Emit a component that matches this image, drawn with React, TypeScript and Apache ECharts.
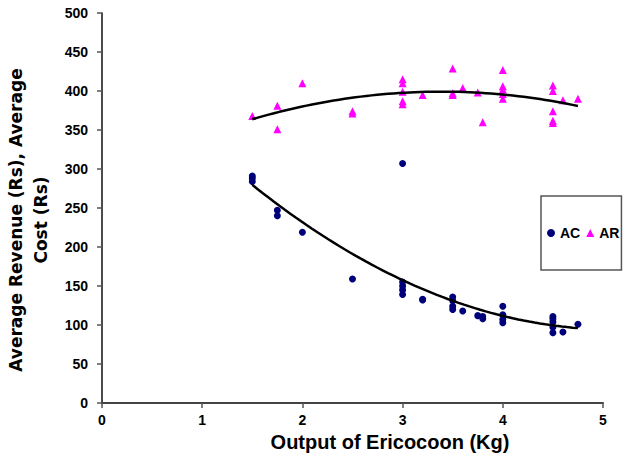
import React, { useEffect, useRef } from "react";
import * as echarts from "echarts";

const acPoints: [number, number][] = [
  [1.5, 291], [1.5, 288], [1.5, 284], [1.75, 247], [1.75, 240], [2, 219], [2.5, 159],
  [3, 307], [3, 155], [3, 150], [3, 145], [3, 139], [3.2, 133], [3.2, 132],
  [3.5, 136], [3.5, 131], [3.5, 124], [3.5, 120], [3.6, 118], [3.75, 112], [3.8, 111], [3.8, 108],
  [4, 124], [4, 113], [4, 107], [4, 103], [4.5, 111], [4.5, 108], [4.5, 104], [4.5, 97], [4.5, 90],
  [4.6, 91], [4.75, 101],
];

const arPoints: [number, number][] = [
  [1.5, 368], [1.75, 381], [1.75, 351], [2, 410], [2.5, 374], [2.5, 371],
  [3, 415], [3, 410], [3, 399], [3, 387], [3, 383], [3.2, 395],
  [3.5, 429], [3.5, 397], [3.5, 395], [3.6, 404], [3.75, 398], [3.8, 360],
  [4, 427], [4, 406], [4, 402], [4, 396], [4, 390],
  [4.5, 407], [4.5, 400], [4.5, 374], [4.5, 362], [4.5, 359], [4.6, 388], [4.75, 390],
];

const xTicks = [0, 1, 2, 3, 4, 5];
const yTicks = [0, 50, 100, 150, 200, 250, 300, 350, 400, 450, 500];

// quadratic least-squares trend line through the data
function quadFit(pts: [number, number][]) {
  let s0 = 0, s1 = 0, s2 = 0, s3 = 0, s4 = 0, t0 = 0, t1 = 0, t2 = 0;
  for (const [x, y] of pts) {
    s0 += 1; s1 += x; s2 += x * x; s3 += x ** 3; s4 += x ** 4;
    t0 += y; t1 += x * y; t2 += x * x * y;
  }
  const M = [
    [s0, s1, s2, t0],
    [s1, s2, s3, t1],
    [s2, s3, s4, t2],
  ];
  for (let i = 0; i < 3; i++) {
    for (let k = i + 1; k < 3; k++) {
      const f = M[k][i] / M[i][i];
      for (let j = i; j < 4; j++) M[k][j] -= f * M[i][j];
    }
  }
  const c = [0, 0, 0];
  for (let i = 2; i >= 0; i--) {
    let s = M[i][3];
    for (let j = i + 1; j < 3; j++) s -= M[i][j] * c[j];
    c[i] = s / M[i][i];
  }
  const xs = pts.map((p) => p[0]);
  const lo = Math.min(...xs), hi = Math.max(...xs);
  const out: [number, number][] = [];
  const n = 60;
  for (let i = 0; i <= n; i++) {
    const x = lo + ((hi - lo) * i) / n;
    out.push([x, c[0] + c[1] * x + c[2] * x * x]);
  }
  return out;
}

const FONT = "'Liberation Sans', Arial, sans-serif";
const WIDE = "'DejaVu Sans', 'Liberation Sans', sans-serif";

export default function App() {
  const ref = useRef<HTMLDivElement>(null);
  useEffect(() => {
    if (!ref.current) return;
    const chart = echarts.init(ref.current, null, { renderer: "svg" });
    chart.setOption({
      animation: false,
      backgroundColor: "#ffffff",
      grid: { left: 102, right: 23, top: 13, bottom: 64, containLabel: false, outerBoundsMode: "none" },
      xAxis: {
        type: "value",
        min: xTicks[0],
        max: xTicks[xTicks.length - 1],
        interval: 1,
        splitLine: { show: false },
        axisLine: { show: true, lineStyle: { color: "#444", width: 2 } },
        axisTick: { show: true, length: 5, lineStyle: { color: "#555", width: 1.5 } },
        axisLabel: { color: "#000", fontFamily: FONT, fontWeight: "bold", fontSize: 14, margin: 10 },
      },
      yAxis: {
        type: "value",
        min: yTicks[0],
        max: yTicks[yTicks.length - 1],
        interval: 50,
        splitLine: { show: false },
        axisLine: { show: true, onZero: false, lineStyle: { color: "#111", width: 1.5 } },
        axisTick: { show: true, length: 5, lineStyle: { color: "#555", width: 1.5 } },
        axisLabel: { color: "#000", fontFamily: FONT, fontWeight: "bold", fontSize: 14, margin: 14 },
        name: "Average Revenue (Rs), Average\nCost (Rs)",
        nameLocation: "middle",
        nameGap: 41,
        nameTextStyle: {
          color: "#000",
          fontFamily: WIDE,
          fontWeight: "bold",
          fontSize: 17,
          lineHeight: 25,
          padding: [0, 24, 0, 0],
        },
      },
      legend: {
        data: [
          { name: "AC", icon: "circle" },
          { name: "AR", icon: "triangle" },
        ],
        left: 541,
        top: 196,
        orient: "horizontal",
        padding: [30, 2, 30, 6],
        itemWidth: 8,
        itemHeight: 8,
        itemGap: 6,
        borderColor: "#555",
        borderWidth: 1.5,
        textStyle: { color: "#000", fontFamily: FONT, fontWeight: "bold", fontSize: 14 },
      },
      graphic: [
        {
          type: "text",
          x: 390,
          y: 432,
          style: {
            text: "Output of Ericocoon (Kg)",
            fill: "#000",
            font: `bold 20px ${FONT}`,
            textAlign: "center",
            textVerticalAlign: "top",
          },
        },
      ],
      series: [
        {
          name: "AC",
          type: "scatter",
          data: acPoints,
          symbol: "circle",
          symbolSize: 7,
          itemStyle: { color: "#00007a", opacity: 1 },
          z: 3,
        },
        {
          name: "AR",
          type: "scatter",
          data: arPoints,
          symbol: "triangle",
          symbolSize: 8,
          itemStyle: { color: "#ff00ff", opacity: 1 },
          z: 3,
        },
        {
          name: "AC trend",
          type: "line",
          data: quadFit(acPoints),
          showSymbol: false,
          smooth: false,
          lineStyle: { color: "#000", width: 2.5 },
          z: 4,
          silent: true,
        },
        {
          name: "AR trend",
          type: "line",
          data: quadFit(arPoints),
          showSymbol: false,
          smooth: false,
          lineStyle: { color: "#000", width: 2.5 },
          z: 4,
          silent: true,
        },
      ],
    });
    return () => chart.dispose();
  }, []);
  return <div ref={ref} style={{ width: 626, height: 467, position: "absolute", left: 0, top: 0 }} />;
}
